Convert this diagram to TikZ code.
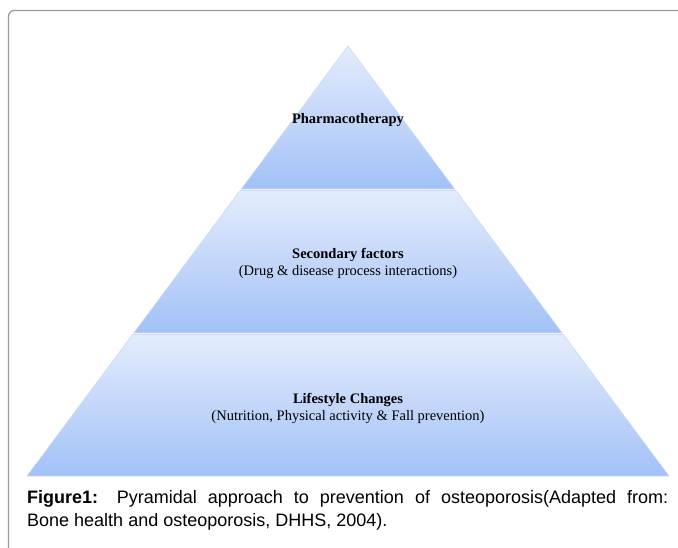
\documentclass[tikz,border=0pt]{standalone}
\usepackage{fontspec}
\setmainfont{Liberation Serif}
\newfontfamily\capfont{Liberation Sans}
\usetikzlibrary{positioning}
\definecolor{tiertop}{RGB}{228,236,252}
\definecolor{tierbot}{RGB}{162,193,247}
\definecolor{tieredge}{RGB}{205,218,242}
\definecolor{framegray}{RGB}{155,155,155}
\tikzset{
    tier/.style={top color=tiertop, bottom color=tierbot, draw=tieredge, line width=0.6pt},
    tierlabel/.style={align=center, inner sep=0pt, font=\fontsize{14.5}{17}\selectfont},
    capnote/.style={text width=641pt, align=justify, inner sep=0pt, font=\capfont\fontsize{18}{23}\selectfont},
}

\begin{document}
\begin{tikzpicture}[x=1pt,y=-1pt]
	\useasboundingbox (0,0) rectangle (678,548);
	% frame
	\draw[framegray, line width=1.3pt, rounded corners=6pt] (678,10.5) -- (8.5,10.5) -- (8.5,548);
	% tiers
	\draw[tier] (348,46) -- (454.7,189) -- (241.3,189) -- cycle;
	\draw[tier] (240.1,190.5) -- (455.9,190.5) -- (562.2,333) -- (133.8,333) -- cycle;
	\draw[tier] (132.6,334.5) -- (563.4,334.5) -- (669,476) -- (27,476) -- cycle;
	% labels
	\node[tierlabel] (pharma) at (348,120) {\textbf{Pharmacotherapy}};
	\node[tierlabel] (secondary) at (348,263) {\textbf{Secondary factors}\\(Drug \& disease process interactions)};
	\node[tierlabel] (lifestyle) at (348,408) {\textbf{Lifestyle Changes}\\(Nutrition, Physical activity \& Fall prevention)};
	\node[capnote, anchor=north west] (caption) at (27,490) {\textbf{Figure1:} Pyramidal approach to prevention of osteoporosis(Adapted from:\linebreak Bone health and osteoporosis, DHHS, 2004).};
\end{tikzpicture}
\end{document}
